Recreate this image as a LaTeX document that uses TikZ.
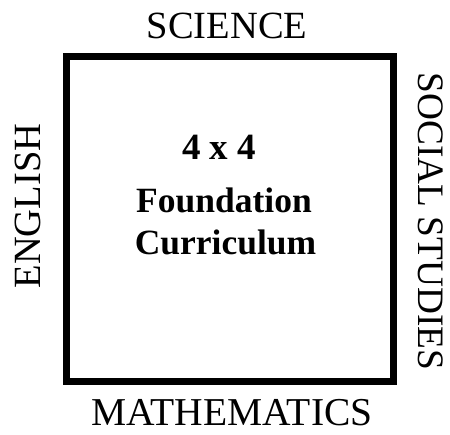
\documentclass[tikz,border=0pt]{standalone}
\usepackage{fontspec}
\setmainfont{Liberation Serif}
\usepackage{tikz}

\begin{document}
\begin{tikzpicture}[x=1pt,y=-1pt,
    subject/.style={anchor=base,inner sep=0pt,text depth=0pt,font=\fontsize{38.5}{44}\selectfont},
    inner/.style={anchor=base,inner sep=0pt,text depth=0pt,font=\fontsize{35.5}{42}\selectfont\bfseries}]
    \useasboundingbox (0,0) rectangle (450,435);
    \node[draw,line width=7pt,minimum width=327pt,minimum height=325pt,inner sep=0pt] (frame) at (230,219) {};
    \node[subject] (sci) at (227,38.5) {SCIENCE};
    \node[subject,font=\fontsize{39.5}{44}\selectfont] (math) at (232,426) {MATHEMATICS};
    \node[subject,rotate=90] (eng) at (40,206) {ENGLISH};
    \node[subject,rotate=-90,font=\fontsize{37.3}{44}\selectfont] (soc) at (418,221.5) {SOCIAL STUDIES};
    \node[inner,font=\fontsize{37}{42}\selectfont\bfseries] (size) at (219,160) {4 x 4};
    \node[inner] (found) at (224,213) {Foundation};
    \node[inner] (curr) at (225.5,255) {Curriculum};
\end{tikzpicture}
\end{document}
